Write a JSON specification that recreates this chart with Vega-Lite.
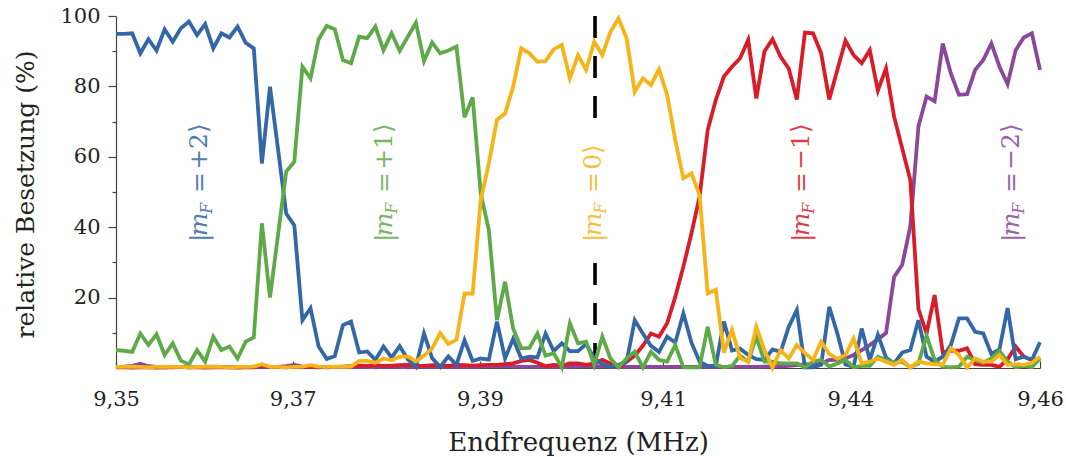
{
  "$schema": "https://vega.github.io/schema/vega-lite/v6.json",
  "width": 924,
  "height": 352,
  "autosize": {"type": "none"},
  "padding": {"left": 116, "top": 16, "right": 26, "bottom": 89},
  "background": "white",
  "config": {
    "view": {"stroke": null},
    "axis": {
      "grid": false,
      "domainColor": "#444444",
      "domainWidth": 1.2,
      "tickColor": "#444444",
      "tickWidth": 1.2,
      "labelFont": "DejaVu Serif",
      "labelFontSize": 21,
      "labelColor": "#222222",
      "titleFont": "DejaVu Serif",
      "titleFontSize": 25,
      "titleFontWeight": "normal",
      "titleColor": "#222222"
    }
  },
  "datasets": {
    "series": [
      {"f":9.350,"p2":94.9,"p1":5.1,"z0":0.3,"m1":0.2,"m2":0.3},
      {"f":9.351,"p2":94.9,"p1":4.9,"z0":0.3,"m1":0.2,"m2":0.4},
      {"f":9.352,"p2":95.1,"p1":4.6,"z0":0.4,"m1":0.1,"m2":0.6},
      {"f":9.353,"p2":89.4,"p1":9.8,"z0":0.3,"m1":0.2,"m2":1.2},
      {"f":9.354,"p2":93.4,"p1":6.5,"z0":0.2,"m1":0.2,"m2":0.5},
      {"f":9.355,"p2":90.2,"p1":9.6,"z0":0.3,"m1":0.1,"m2":0.3},
      {"f":9.356,"p2":96.2,"p1":3.7,"z0":0.4,"m1":0.2,"m2":0.2},
      {"f":9.357,"p2":92.7,"p1":7.0,"z0":0.3,"m1":0.2,"m2":0.3},
      {"f":9.358,"p2":96.5,"p1":2.1,"z0":0.3,"m1":0.3,"m2":0.3},
      {"f":9.359,"p2":98.4,"p1":1.0,"z0":0.2,"m1":0.2,"m2":0.2},
      {"f":9.360,"p2":94.6,"p1":5.1,"z0":0.3,"m1":0.2,"m2":0.3},
      {"f":9.361,"p2":97.7,"p1":1.8,"z0":0.4,"m1":0.1,"m2":0.3},
      {"f":9.362,"p2":90.8,"p1":8.9,"z0":0.3,"m1":0.2,"m2":0.4},
      {"f":9.363,"p2":95.1,"p1":5.1,"z0":0.3,"m1":0.2,"m2":0.3},
      {"f":9.364,"p2":93.9,"p1":6.1,"z0":0.2,"m1":0.2,"m2":0.2},
      {"f":9.365,"p2":97.0,"p1":2.7,"z0":0.3,"m1":0.1,"m2":0.3},
      {"f":9.366,"p2":92.4,"p1":7.5,"z0":0.3,"m1":0.2,"m2":0.3},
      {"f":9.367,"p2":90.8,"p1":8.7,"z0":0.4,"m1":0.2,"m2":0.3},
      {"f":9.368,"p2":58.1,"p1":41.1,"z0":1.1,"m1":0.8,"m2":0.4},
      {"f":9.369,"p2":79.9,"p1":20.0,"z0":0.3,"m1":0.3,"m2":0.3},
      {"f":9.370,"p2":62.0,"p1":38.0,"z0":0.3,"m1":0.3,"m2":0.3},
      {"f":9.371,"p2":43.9,"p1":55.8,"z0":0.2,"m1":0.2,"m2":0.5},
      {"f":9.372,"p2":40.5,"p1":58.6,"z0":0.3,"m1":0.4,"m2":0.9},
      {"f":9.373,"p2":13.6,"p1":85.6,"z0":0.4,"m1":0.3,"m2":0.4},
      {"f":9.374,"p2":17.0,"p1":82.3,"z0":0.8,"m1":0.3,"m2":0.3},
      {"f":9.375,"p2":6.1,"p1":93.4,"z0":0.4,"m1":0.2,"m2":0.3},
      {"f":9.376,"p2":2.6,"p1":97.2,"z0":0.3,"m1":0.3,"m2":0.2},
      {"f":9.377,"p2":3.4,"p1":96.2,"z0":0.4,"m1":0.3,"m2":0.3},
      {"f":9.378,"p2":12.2,"p1":87.5,"z0":0.3,"m1":0.4,"m2":0.3},
      {"f":9.379,"p2":13.2,"p1":86.6,"z0":0.4,"m1":0.5,"m2":0.3},
      {"f":9.380,"p2":4.4,"p1":94.1,"z0":2.0,"m1":0.7,"m2":0.3},
      {"f":9.381,"p2":4.7,"p1":93.7,"z0":2.0,"m1":0.6,"m2":0.3},
      {"f":9.382,"p2":2.3,"p1":97.0,"z0":1.5,"m1":0.8,"m2":0.2},
      {"f":9.383,"p2":6.1,"p1":90.3,"z0":2.7,"m1":0.6,"m2":0.3},
      {"f":9.384,"p2":3.0,"p1":95.1,"z0":2.2,"m1":0.7,"m2":0.3},
      {"f":9.385,"p2":6.2,"p1":90.1,"z0":3.2,"m1":0.8,"m2":0.3},
      {"f":9.386,"p2":2.5,"p1":94.1,"z0":3.3,"m1":0.9,"m2":0.2},
      {"f":9.387,"p2":0.3,"p1":98.1,"z0":1.9,"m1":0.7,"m2":0.3},
      {"f":9.388,"p2":9.8,"p1":87.2,"z0":3.5,"m1":0.6,"m2":0.3},
      {"f":9.389,"p2":2.8,"p1":92.5,"z0":5.5,"m1":0.8,"m2":0.3},
      {"f":9.390,"p2":0.3,"p1":89.4,"z0":9.9,"m1":0.7,"m2":0.3},
      {"f":9.391,"p2":3.3,"p1":90.2,"z0":6.8,"m1":0.6,"m2":0.3},
      {"f":9.392,"p2":0.9,"p1":91.3,"z0":8.0,"m1":0.9,"m2":0.3},
      {"f":9.393,"p2":7.9,"p1":71.2,"z0":21.2,"m1":0.8,"m2":0.3},
      {"f":9.394,"p2":2.0,"p1":76.9,"z0":21.1,"m1":0.7,"m2":0.3},
      {"f":9.395,"p2":2.7,"p1":49.6,"z0":47.7,"m1":0.8,"m2":0.4},
      {"f":9.396,"p2":2.4,"p1":39.2,"z0":58.1,"m1":0.9,"m2":0.5},
      {"f":9.397,"p2":13.2,"p1":13.6,"z0":70.5,"m1":0.9,"m2":0.5},
      {"f":9.398,"p2":2.7,"p1":24.5,"z0":72.3,"m1":1.1,"m2":0.5},
      {"f":9.399,"p2":8.3,"p1":11.2,"z0":79.9,"m1":1.3,"m2":0.4},
      {"f":9.400,"p2":2.7,"p1":5.6,"z0":90.8,"m1":2.0,"m2":0.3},
      {"f":9.401,"p2":3.2,"p1":5.7,"z0":89.4,"m1":2.3,"m2":0.3},
      {"f":9.402,"p2":3.0,"p1":9.8,"z0":87.0,"m1":1.5,"m2":0.3},
      {"f":9.403,"p2":9.8,"p1":3.5,"z0":87.2,"m1":0.5,"m2":0.3},
      {"f":9.404,"p2":4.8,"p1":4.2,"z0":90.5,"m1":0.9,"m2":0.3},
      {"f":9.405,"p2":7.0,"p1":0.2,"z0":91.8,"m1":0.6,"m2":0.3},
      {"f":9.406,"p2":4.8,"p1":12.7,"z0":82.3,"m1":1.3,"m2":0.3},
      {"f":9.407,"p2":4.8,"p1":7.0,"z0":88.9,"m1":1.3,"m2":0.4},
      {"f":9.408,"p2":6.8,"p1":7.5,"z0":84.7,"m1":0.9,"m2":0.5},
      {"f":9.409,"p2":2.7,"p1":0.9,"z0":92.7,"m1":1.3,"m2":0.5},
      {"f":9.410,"p2":1.1,"p1":8.9,"z0":88.9,"m1":2.3,"m2":0.4},
      {"f":9.411,"p2":0.3,"p1":2.7,"z0":95.5,"m1":1.3,"m2":0.3},
      {"f":9.412,"p2":0.9,"p1":0.2,"z0":99.3,"m1":0.2,"m2":0.3},
      {"f":9.413,"p2":1.8,"p1":2.7,"z0":93.7,"m1":1.8,"m2":0.3},
      {"f":9.414,"p2":13.6,"p1":4.6,"z0":78.5,"m1":3.5,"m2":0.3},
      {"f":9.415,"p2":9.8,"p1":0.2,"z0":82.3,"m1":6.3,"m2":0.3},
      {"f":9.416,"p2":6.3,"p1":4.6,"z0":80.4,"m1":9.8,"m2":0.3},
      {"f":9.417,"p2":4.6,"p1":2.3,"z0":84.8,"m1":8.9,"m2":0.3},
      {"f":9.418,"p2":8.9,"p1":1.8,"z0":77.6,"m1":12.7,"m2":0.3},
      {"f":9.419,"p2":7.2,"p1":6.5,"z0":64.8,"m1":20.2,"m2":0.3},
      {"f":9.420,"p2":15.5,"p1":0.2,"z0":53.9,"m1":28.8,"m2":0.3},
      {"f":9.421,"p2":7.2,"p1":0.2,"z0":55.3,"m1":38.3,"m2":0.3},
      {"f":9.422,"p2":1.8,"p1":0.2,"z0":49.1,"m1":48.7,"m2":0.3},
      {"f":9.423,"p2":0.6,"p1":11.7,"z0":21.2,"m1":67.6,"m2":0.3},
      {"f":9.424,"p2":0.6,"p1":0.9,"z0":22.2,"m1":76.1,"m2":0.3},
      {"f":9.425,"p2":13.2,"p1":0.2,"z0":4.4,"m1":82.8,"m2":0.3},
      {"f":9.426,"p2":5.0,"p1":0.6,"z0":10.8,"m1":85.6,"m2":0.3},
      {"f":9.427,"p2":5.5,"p1":3.5,"z0":2.8,"m1":88.0,"m2":0.3},
      {"f":9.428,"p2":3.7,"p1":1.8,"z0":1.8,"m1":93.2,"m2":0.3},
      {"f":9.429,"p2":2.5,"p1":8.9,"z0":11.7,"m1":76.6,"m2":0.3},
      {"f":9.430,"p2":2.3,"p1":1.8,"z0":5.1,"m1":89.9,"m2":0.4},
      {"f":9.431,"p2":5.3,"p1":1.8,"z0":0.1,"m1":93.4,"m2":0.5},
      {"f":9.432,"p2":4.6,"p1":1.3,"z0":5.1,"m1":88.4,"m2":0.5},
      {"f":9.433,"p2":11.7,"p1":1.3,"z0":2.7,"m1":85.1,"m2":0.6},
      {"f":9.434,"p2":16.5,"p1":1.3,"z0":6.5,"m1":76.3,"m2":0.8},
      {"f":9.435,"p2":0.2,"p1":0.2,"z0":4.2,"m1":95.3,"m2":1.0},
      {"f":9.436,"p2":0.2,"p1":1.8,"z0":2.3,"m1":95.1,"m2":1.0},
      {"f":9.437,"p2":0.9,"p1":2.3,"z0":7.5,"m1":89.4,"m2":1.3},
      {"f":9.438,"p2":17.4,"p1":0.4,"z0":4.0,"m1":76.3,"m2":2.3},
      {"f":9.439,"p2":9.8,"p1":1.3,"z0":2.6,"m1":84.7,"m2":2.3},
      {"f":9.440,"p2":1.0,"p1":2.3,"z0":3.7,"m1":93.0,"m2":2.7},
      {"f":9.441,"p2":0.3,"p1":0.2,"z0":8.4,"m1":88.9,"m2":3.7},
      {"f":9.442,"p2":11.2,"p1":0.6,"z0":1.3,"m1":86.6,"m2":5.1},
      {"f":9.443,"p2":2.3,"p1":0.6,"z0":1.8,"m1":90.3,"m2":6.5},
      {"f":9.444,"p2":9.4,"p1":3.2,"z0":2.7,"m1":78.8,"m2":8.2},
      {"f":9.445,"p2":3.0,"p1":2.3,"z0":1.8,"m1":85.1,"m2":9.9},
      {"f":9.446,"p2":1.3,"p1":1.5,"z0":0.9,"m1":71.4,"m2":25.9},
      {"f":9.447,"p2":4.4,"p1":1.8,"z0":2.3,"m1":62.4,"m2":29.3},
      {"f":9.448,"p2":5.1,"p1":0.2,"z0":0.1,"m1":53.4,"m2":40.2},
      {"f":9.449,"p2":13.6,"p1":1.3,"z0":1.8,"m1":16.8,"m2":68.6},
      {"f":9.450,"p2":3.2,"p1":9.2,"z0":1.3,"m1":9.8,"m2":77.1},
      {"f":9.451,"p2":1.8,"p1":2.3,"z0":1.1,"m1":20.7,"m2":75.8},
      {"f":9.452,"p2":3.2,"p1":0.4,"z0":0.9,"m1":4.4,"m2":92.2},
      {"f":9.453,"p2":6.5,"p1":0.2,"z0":5.6,"m1":4.9,"m2":83.7},
      {"f":9.454,"p2":14.1,"p1":0.4,"z0":3.7,"m1":4.9,"m2":77.6},
      {"f":9.455,"p2":14.1,"p1":3.2,"z0":0.1,"m1":5.6,"m2":77.8},
      {"f":9.456,"p2":10.3,"p1":2.3,"z0":2.7,"m1":1.1,"m2":84.7},
      {"f":9.457,"p2":9.8,"p1":1.5,"z0":1.8,"m1":0.9,"m2":87.5},
      {"f":9.458,"p2":4.0,"p1":2.7,"z0":1.8,"m1":0.9,"m2":92.2},
      {"f":9.459,"p2":5.3,"p1":4.9,"z0":3.7,"m1":0.3,"m2":85.6},
      {"f":9.460,"p2":17.0,"p1":1.8,"z0":0.9,"m1":2.5,"m2":80.7},
      {"f":9.461,"p2":2.5,"p1":0.2,"z0":1.1,"m1":6.1,"m2":90.3},
      {"f":9.462,"p2":3.2,"p1":0.6,"z0":0.9,"m1":3.2,"m2":93.9},
      {"f":9.463,"p2":2.3,"p1":0.2,"z0":1.5,"m1":2.3,"m2":95.1},
      {"f":9.464,"p2":7.3,"p1":2.7,"z0":3.2,"m1":2.5,"m2":84.7}
    ],
    "marker": [
      {"f": 9.4091, "v0": 100, "v1": 70.5},
      {"f": 9.4091, "v0": 29.8, "v1": 0}
    ],
    "labels": [
      {"s":"p2","t":"|","f":9.3612,"v":35.8,"part":"up"},
      {"s":"p2","t":"m","f":9.3612,"v":37.4,"part":"it"},
      {"s":"p2","t":"F","f":9.3612,"v":43.8,"part":"sub"},
      {"s":"p2","t":"=","f":9.3612,"v":49.7,"part":"up"},
      {"s":"p2","t":"+2⟩","f":9.3612,"v":56.3,"part":"up"},
      {"s":"p1","t":"|","f":9.3841,"v":35.8,"part":"up"},
      {"s":"p1","t":"m","f":9.3841,"v":37.4,"part":"it"},
      {"s":"p1","t":"F","f":9.3841,"v":43.8,"part":"sub"},
      {"s":"p1","t":"=","f":9.3841,"v":49.7,"part":"up"},
      {"s":"p1","t":"+1⟩","f":9.3841,"v":56.3,"part":"up"},
      {"s":"z0","t":"|","f":9.4098,"v":35.8,"part":"up"},
      {"s":"z0","t":"m","f":9.4098,"v":37.4,"part":"it"},
      {"s":"z0","t":"F","f":9.4098,"v":43.8,"part":"sub"},
      {"s":"z0","t":"=","f":9.4098,"v":49.7,"part":"up"},
      {"s":"z0","t":"0⟩","f":9.4098,"v":56.3,"part":"up"},
      {"s":"m1","t":"|","f":9.4355,"v":35.8,"part":"up"},
      {"s":"m1","t":"m","f":9.4355,"v":37.4,"part":"it"},
      {"s":"m1","t":"F","f":9.4355,"v":43.8,"part":"sub"},
      {"s":"m1","t":"=","f":9.4355,"v":49.7,"part":"up"},
      {"s":"m1","t":"−1⟩","f":9.4355,"v":56.3,"part":"up"},
      {"s":"m2","t":"|","f":9.4614,"v":35.8,"part":"up"},
      {"s":"m2","t":"m","f":9.4614,"v":37.4,"part":"it"},
      {"s":"m2","t":"F","f":9.4614,"v":43.8,"part":"sub"},
      {"s":"m2","t":"=","f":9.4614,"v":49.7,"part":"up"},
      {"s":"m2","t":"−2⟩","f":9.4614,"v":56.3,"part":"up"}
    ]
  },
  "layer": [
    {
      "data": {"name": "marker"},
      "mark": {"type": "rule", "color": "black", "strokeWidth": 3.6, "strokeDash": [22, 18]},
      "encoding": {
        "x": {"field": "f", "type": "quantitative", "scale": {"domain": [9.35, 9.464], "nice": false, "zero": false}, "axis": null},
        "y": {"field": "v0", "type": "quantitative", "scale": {"domain": [0, 100], "nice": false},
          "axis": {"orient": "left", "values": [10, 30, 50, 70, 90], "labels": false, "domain": false, "tickSize": 4, "title": null}},
        "y2": {"field": "v1"}
      }
    },
    {
      "data": {"name": "series"},
      "transform": [{"fold": ["m2", "m1", "p2", "p1", "z0"], "as": ["s", "val"]}],
      "mark": {"type": "line", "strokeWidth": 3.8},
      "encoding": {
        "x": {"field": "f", "type": "quantitative", "scale": {"domain": [9.35, 9.464], "nice": false, "zero": false},
          "axis": {"orient": "bottom", "values": [9.35, 9.3718, 9.3949, 9.4175, 9.4406, 9.464],
            "labelExpr": "datum.value < 9.36 ? '9,35' : datum.value < 9.38 ? '9,37' : datum.value < 9.405 ? '9,39' : datum.value < 9.43 ? '9,41' : datum.value < 9.45 ? '9,44' : '9,46'",
            "tickSize": -7, "labelPadding": 44, "labelBaseline": "alphabetic", "labelFlush": false, "labelOverlap": false,
            "title": "Endfrequenz (MHz)", "titleBaseline": "alphabetic", "titleY": 82, "titleX": 462, "titleFontSize": 26}},
        "y": {"field": "val", "type": "quantitative", "scale": {"domain": [0, 100], "nice": false},
          "axis": {"orient": "left", "values": [20, 40, 60, 80, 100], "tickSize": 8, "labelPadding": 8,
            "title": "relative Besetzung (%)", "titleBaseline": "alphabetic", "titleX": -83, "titleY": 178, "titleAngle": 270}},
        "color": {"field": "s", "type": "nominal", "legend": null,
          "scale": {"domain": ["p2", "p1", "z0", "m1", "m2"], "range": ["#3467a6", "#5eaa48", "#f6b418", "#d81c28", "#89489b"]}}
      }
    },
    {
      "data": {"name": "labels"},
      "transform": [{"filter": "datum.part === 'up'"}],
      "mark": {"type": "text", "angle": 270, "align": "left", "baseline": "alphabetic", "font": "DejaVu Serif", "fontSize": 25, "opacity": 0.85},
      "encoding": {
        "x": {"field": "f", "type": "quantitative", "axis": null},
        "y": {"field": "v", "type": "quantitative", "axis": null},
        "text": {"field": "t"},
        "color": {"field": "s", "type": "nominal", "legend": null}
      }
    },
    {
      "data": {"name": "labels"},
      "transform": [{"filter": "datum.part === 'it'"}],
      "mark": {"type": "text", "angle": 270, "align": "left", "baseline": "alphabetic", "font": "DejaVu Serif", "fontStyle": "italic", "fontSize": 25, "opacity": 0.85},
      "encoding": {
        "x": {"field": "f", "type": "quantitative", "axis": null},
        "y": {"field": "v", "type": "quantitative", "axis": null},
        "text": {"field": "t"},
        "color": {"field": "s", "type": "nominal", "legend": null}
      }
    },
    {
      "data": {"name": "labels"},
      "transform": [{"filter": "datum.part === 'sub'"}],
      "mark": {"type": "text", "angle": 270, "align": "left", "baseline": "alphabetic", "font": "DejaVu Serif", "fontStyle": "italic", "fontSize": 16, "dy": 5, "opacity": 0.85},
      "encoding": {
        "x": {"field": "f", "type": "quantitative", "axis": null},
        "y": {"field": "v", "type": "quantitative", "axis": null},
        "text": {"field": "t"},
        "color": {"field": "s", "type": "nominal", "legend": null}
      }
    }
  ],
  "resolve": {"axis": {"x": "independent", "y": "independent"}}
}
